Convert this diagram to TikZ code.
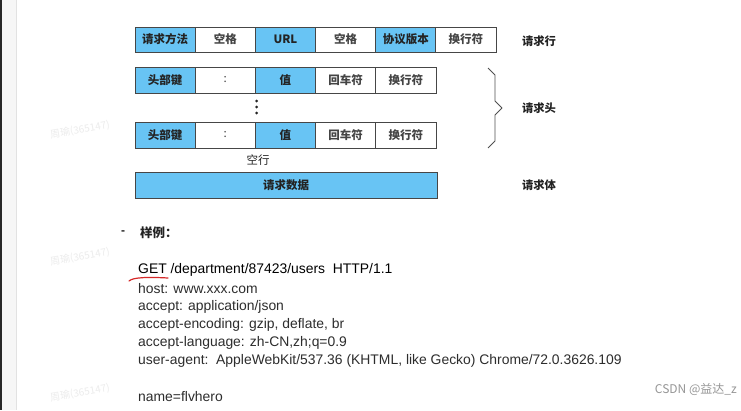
\documentclass[tikz,border=0pt]{standalone}
\usepackage{fontspec}
\setmainfont{Liberation Sans}
\newfontfamily\cjk{Noto Sans CJK SC}
\definecolor{cellblue}{RGB}{104,196,244}
\definecolor{cellline}{RGB}{70,70,70}
\definecolor{textdark}{RGB}{35,35,35}
\definecolor{codetext}{RGB}{45,45,45}
\definecolor{stripdark}{RGB}{40,40,40}
\definecolor{stripgray}{RGB}{246,246,246}
\definecolor{stripline}{RGB}{226,226,226}
\definecolor{braceline}{RGB}{80,80,80}
\definecolor{markgray}{RGB}{150,150,150}
\definecolor{faintmark}{RGB}{236,236,236}
\definecolor{underred}{RGB}{214,40,40}
\begin{document}
\begin{tikzpicture}[x=1pt,y=-1pt,
  cell/.style={draw=cellline, line width=0.8pt, minimum width=60.2pt, minimum height=25pt,
    inner sep=0pt, text=textdark, font=\cjk\bfseries\fontsize{11.5}{11.5}\selectfont},
  bluecell/.style={cell, fill=cellblue},
  whitecell/.style={cell, fill=white, text=textdark!85},
  sidelabel/.style={inner sep=0pt, text=textdark, font=\cjk\bfseries\fontsize{11.3}{11.3}\selectfont},
  codeline/.style={anchor=west, inner sep=0pt, text=codetext, font=\fontsize{13.9}{14}\selectfont},
  dotmark/.style={fill=textdark, draw=none, circle, inner sep=0pt, minimum size=3pt},
  wmark/.style={inner sep=0pt, text=faintmark, rotate=10, font=\cjk\fontsize{10}{10}\selectfont}
]
\useasboundingbox (0,0) rectangle (741,410);
\fill[white] (0,0) rectangle (741,410);
% left window strip
\fill[stripdark] (0,0) rectangle (2,410);
\fill[stripgray] (2,0) rectangle (16,410);
\draw[stripline, line width=0.6pt] (16,0) -- (16,410);

% faint watermarks
\node[wmark] (w1) at (80,130) {周瑜(365147)};
\node[wmark] (w2) at (80,257) {周瑜(365147)};
\node[wmark] (w3) at (80,393) {周瑜(365147)};

% request line
\node[bluecell]  (r1c1) at (165.1,39.5) {请求方法};
\node[whitecell] (r1c2) at (225.3,39.5) {空格};
\node[bluecell]  (r1c3) at (285.4,39.5) {URL};
\node[whitecell] (r1c4) at (345.6,39.5) {空格};
\node[bluecell]  (r1c5) at (405.8,39.5) {协议版本};
\node[whitecell] (r1c6) at (465.9,39.5) {换行符};

% header row 1
\node[bluecell, minimum height=26pt]  (h1c1) at (165.1,80) {头部键};
\node[whitecell, minimum height=26pt] (h1c2) at (225.3,80) {\mdseries :};
\node[bluecell, minimum height=26pt]  (h1c3) at (285.4,80) {值};
\node[whitecell, minimum height=26pt] (h1c4) at (345.6,80) {回车符};
\node[whitecell, minimum height=26pt] (h1c5) at (405.8,80) {换行符};

% dots
\node[dotmark] (d1) at (256.5,101) {};
\node[dotmark] (d2) at (256.5,107) {};
\node[dotmark] (d3) at (256.5,113) {};

% header row 2
\node[bluecell, minimum height=26pt]  (h2c1) at (165.1,135) {头部键};
\node[whitecell, minimum height=26pt] (h2c2) at (225.3,135) {\mdseries :};
\node[bluecell, minimum height=26pt]  (h2c3) at (285.4,135) {值};
\node[whitecell, minimum height=26pt] (h2c4) at (345.6,135) {回车符};
\node[whitecell, minimum height=26pt] (h2c5) at (405.8,135) {换行符};

% empty line and body
\node[sidelabel, font=\cjk\fontsize{11.5}{11.5}\selectfont] (blank) at (258,160) {空行};
\node[bluecell, minimum width=302pt, minimum height=26pt] (body) at (286,185) {请求数据};

% side labels
\node[sidelabel] (lreq) at (539,41) {请求行};
\node[sidelabel] (lhead) at (539,108) {请求头};
\node[sidelabel] (lbody) at (539,185) {请求体};

% brace
\draw[braceline, line width=0.8pt, line join=round]
  (488,68) -- (495,75) -- (495,101) -- (502,108) -- (495,115) -- (495,141) -- (488,148);

% example
\node[inner sep=0pt, text=textdark, font=\bfseries\fontsize{12}{12}\selectfont] (dash) at (123,233) {-};
\node[anchor=west, inner sep=0pt, text=textdark, font=\cjk\bfseries\fontsize{12.5}{12.5}\selectfont] (ex) at (140,233) {样例：};

\node[codeline, text=black] (l1) at (138,270) {GET /department/87423/users\ \ HTTP/1.1};
\node[codeline] (l2) at (138,289) {host: www.xxx.com};
\node[codeline] (l3) at (138,307) {accept: application/json};
\node[codeline] (l4) at (138,325) {accept-encoding: gzip, deflate, br};
\node[codeline] (l5) at (138,343) {accept-language: zh-CN,zh;q=0.9};
\begin{scope}
  \clip (0,0) rectangle (622,410);
  \node[codeline] (l6) at (138,361) {user-agent:\ \ AppleWebKit/537.36 (KHTML, like Gecko) Chrome/72.0.3626.109};
\end{scope}
\node[codeline] (l7) at (138,397) {name=flvhero};

\draw[underred, line width=1.2pt, line cap=round]
  (129,281) .. controls (133,277) and (150,277) .. (168,278);

% watermark
\node[anchor=east, inner sep=0pt, text=markgray, font=\cjk\fontsize{12}{12}\selectfont] (csdn) at (737,389) {CSDN @益达\_z};
\end{tikzpicture}
\end{document}
